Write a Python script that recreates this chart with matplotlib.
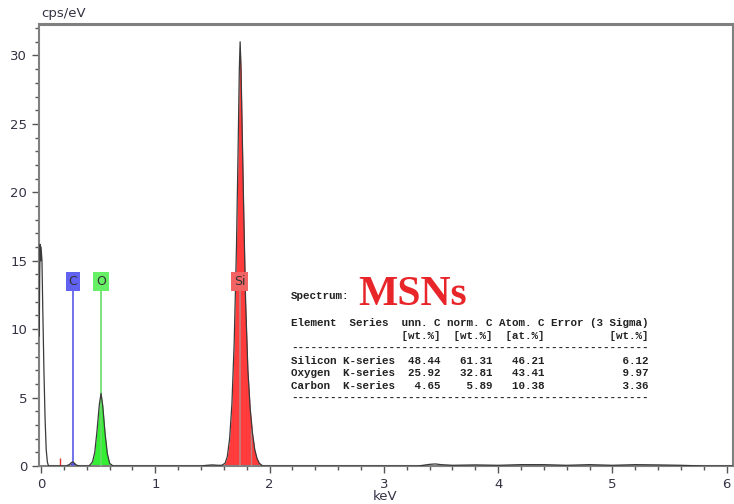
import matplotlib
matplotlib.use("Agg")
import matplotlib.pyplot as plt
import numpy as np

# ---- spectrum (keV, cps/eV) ----
energy = [-0.016, -0.012, -0.008, -0.004, 0.0, 0.008, 0.015, 0.025, 0.035, 0.045, 0.055, 0.065, 0.10,
          0.22, 0.25, 0.265, 0.277, 0.29, 0.31, 0.34,
          0.42, 0.45, 0.47, 0.49, 0.51, 0.525, 0.54, 0.56, 0.58, 0.60, 0.63,
          1.40, 1.45, 1.50, 1.55, 1.58, 1.61, 1.63, 1.65, 1.67, 1.69, 1.71, 1.725, 1.735, 1.742,
          1.75, 1.76, 1.775, 1.79, 1.81, 1.83, 1.85, 1.87, 1.89, 1.91, 1.94,
          2.2, 3.3, 3.4, 3.45, 3.5, 3.6, 3.8, 4.0, 4.2, 4.4, 4.6, 4.8, 5.0, 5.2, 5.4, 5.6, 5.8, 6.05]
cps = [9.5, 14.0, 16.2, 15.0, 16.0, 15.0, 11.5, 7.0, 3.5, 1.2, 0.3, 0.0, 0.0,
       0.0, 0.12, 0.25, 0.3, 0.22, 0.06, 0.0,
       0.0, 0.3, 1.0, 2.6, 4.5, 5.3, 4.4, 2.4, 0.9, 0.2, 0.0,
       0.0, 0.05, 0.08, 0.05, 0.05, 0.2, 0.7, 2.0, 4.5, 9.0, 16.0, 23.5, 29.0, 31.0,
       29.0, 24.5, 18.0, 12.0, 7.0, 4.2, 2.4, 1.2, 0.55, 0.2, 0.0,
       0.0, 0.0, 0.12, 0.15, 0.1, 0.05, 0.08, 0.05, 0.1, 0.1, 0.05, 0.1, 0.05, 0.1, 0.08, 0.05, 0.0, 0.0]

# element lines (keV), fill ranges, label height
elements = ["C", "O", "Si"]
line_kev = [0.277, 0.525, 1.740]
fill_lo = [0.22, 0.42, 1.58]
fill_hi = [0.34, 0.63, 1.94]
fill_colors = ["#3a3ad0", "#33ee33", "#ff3b3b"]
box_colors = ["#6161f2", "#66f066", "#f26464"]
marker_colors = ["#5a5ae6", "#66dd66", "#c08282"]
label_y = 13.5
si_kb_kev = 1.835
si_kb_top = 2.8
red_marker_kev = 0.17
red_marker_top = 0.6

# quantification table
tab_elements = ["Silicon", "Oxygen", "Carbon"]
tab_series = ["K-series", "K-series", "K-series"]
unn_c = [48.44, 25.92, 4.65]
norm_c = [61.31, 32.81, 5.89]
atom_c = [46.21, 43.41, 10.38]
err_3s = [6.12, 9.97, 3.36]

xticks = [0, 1, 2, 3, 4, 5, 6]
yticks = [0, 5, 10, 15, 20, 25, 30]

W, H = 734, 504
fig = plt.figure(figsize=(W / 100, H / 100), dpi=100)
ax = fig.add_axes([39 / W, (H - 466) / H, (733 - 39) / W, (466 - 24) / H])

e = np.array(energy)
c = np.array(cps)
for lo, hi, col in zip(fill_lo, fill_hi, fill_colors):
    m = (e >= lo) & (e <= hi)
    ax.fill_between(e[m], 0, c[m], color=col, lw=0, zorder=2)

for k, col in zip(line_kev, marker_colors):
    ax.vlines(k, 0, label_y - 0.5, color=col, lw=1.2, zorder=3)
ax.vlines(si_kb_kev, 0, si_kb_top, color="#c08282", lw=1.0, zorder=3)
ax.vlines(red_marker_kev, 0, red_marker_top, color="#e03030", lw=1.0, zorder=3)

ax.plot(e, c, color="#3a3a3a", lw=0.9, zorder=4)

for name, k, bc in zip(elements, line_kev, box_colors):
    ax.text(k, label_y, name, ha="center", va="center", fontsize=9, color="#333333",
            bbox=dict(boxstyle="square,pad=0.22", fc=bc, ec="none"), zorder=5)

ax.set_xlim(-0.018, 6.055)
ax.set_ylim(0, 32.3)
ax.set_xticks(xticks)
ax.set_yticks(yticks)
ax.set_xticks(np.arange(0, 6.01, 0.2), minor=True)
ax.set_yticks(np.arange(0, 33, 1), minor=True)
ax.tick_params(which="major", length=5, width=1, color="#555555", labelsize=9.5, labelcolor="#333344", direction="out")
ax.tick_params(which="minor", length=3, width=1, color="#555555", direction="out")
for s in ax.spines.values():
    s.set_color("#808080")
    s.set_linewidth(1.5)
ax.spines["top"].set_linewidth(2.2)

def ftxt(x, y, s, **kw):
    fig.text(x / W, 1 - y / H, s, **kw)

ftxt(41, 14, "cps/eV", fontsize=9.5, color="#333344", ha="left", va="center")
ftxt(385, 496, "keV", fontsize=9.5, color="#333344", ha="center", va="center")

mono = dict(family="Liberation Mono", fontweight="bold", fontsize=7.85, color="#222222", ha="left", va="center")
ftxt(291, 296, "Spectrum:", **mono)
ftxt(358, 305, "MSNs", family="Liberation Serif", fontweight="bold", fontsize=30, color="#e8262a",
     ha="left", va="baseline")

header = "Element  Series  unn. C norm. C Atom. C Error (3 Sigma)"
units = " " * 17 + "[wt.%]  [wt.%]  [at.%]" + " " * 10 + "[wt.%]"
dashes = "-" * 55
rows = []
for n, sr, u, nc, a, er in zip(tab_elements, tab_series, unn_c, norm_c, atom_c, err_3s):
    rows.append(f"{n:<8}{sr:<8}{u:>7.2f}{nc:>8.2f}{a:>8.2f}{er:>16.2f}")

ftxt(291, 323, header, **mono)
ftxt(291, 336, units, **mono)
ftxt(291, 348, dashes, **mono)
for i, r in enumerate(rows):
    ftxt(291, 360.5 + 12.7 * i, r, **mono)
ftxt(291, 398, dashes, **mono)

fig.savefig("out.png", dpi=100)
